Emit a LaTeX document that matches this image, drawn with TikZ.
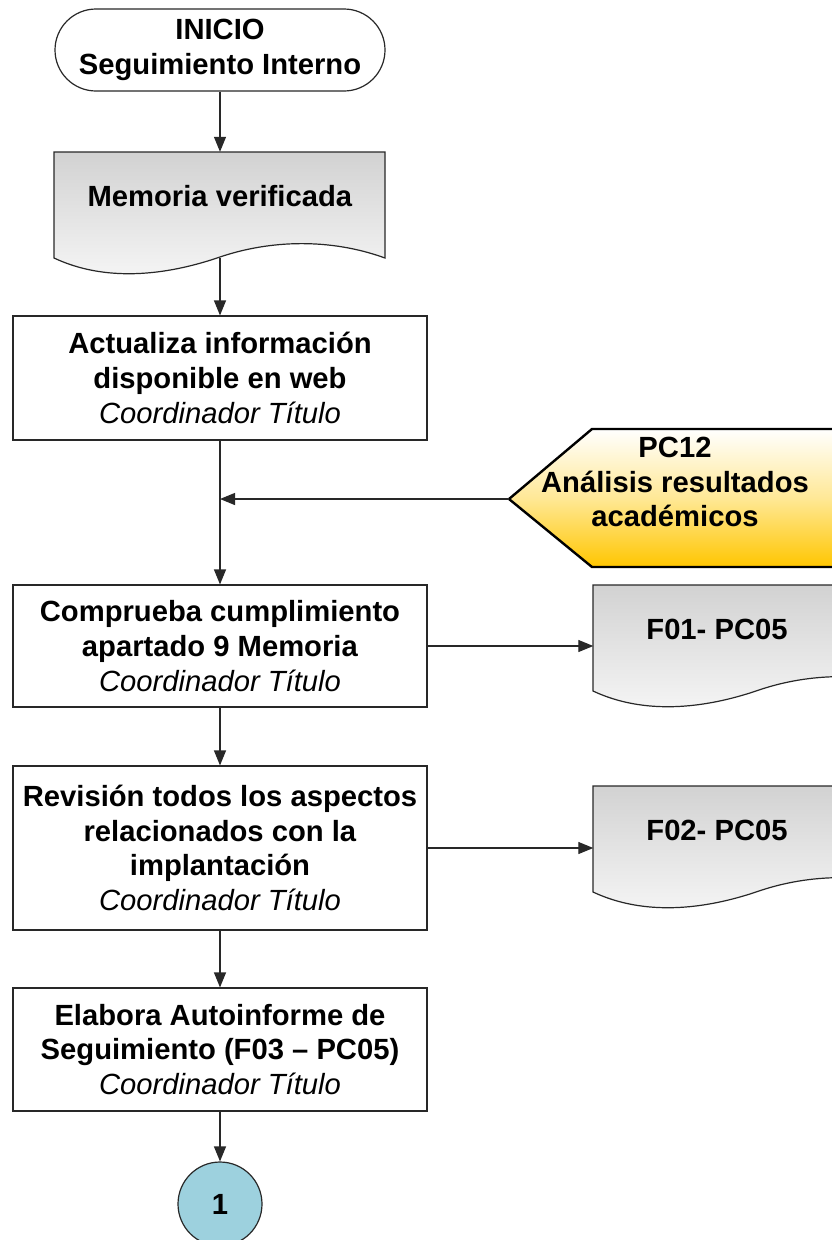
\documentclass[tikz,border=0pt]{standalone}
\usepackage{fontspec}
\setmainfont{Liberation Sans}
\usetikzlibrary{arrows.meta,calc}
\newcommand\fsz{\fontsize{29.2}{34.7}\selectfont}
\newcommand\docpath{(54,152) -- (385,152) -- (385,258) .. controls (330,238) and (270,240) .. (220,257) .. controls (165,276) and (105,282) .. (54,258) -- cycle}
\definecolor{docdark}{RGB}{210,210,210}
\definecolor{doclight}{RGB}{246,246,246}
\definecolor{goldbot}{RGB}{255,198,0}
\definecolor{goldmid}{RGB}{255,232,150}
\definecolor{circblue}{RGB}{157,209,222}
\definecolor{edge}{RGB}{40,40,40}
\tikzset{
  box/.style={draw=edge, line width=1.2pt, fill=white, minimum width=414pt, minimum height=124pt, align=center, font=\fsz, inner sep=0pt},
  txt/.style={align=center, font=\fsz, inner sep=0pt},
  ghost/.style={inner sep=0pt, minimum width=331pt, minimum height=106pt},
  arr/.style={-{Triangle[length=15pt,width=12pt]}, line width=1.2pt, draw=edge},
  docshape/.style={draw=edge, line width=1.2pt, top color=docdark, bottom color=doclight},
}
\begin{document}
\begin{tikzpicture}[x=1pt,y=-1pt]
\clip (0,0) rectangle (832,1240);
\fill[white] (0,0) rectangle (832,1240);

% start terminal
\node[draw=edge, line width=1.2pt, fill=white, rounded corners=41pt, minimum width=330pt, minimum height=82pt, txt] (start) at (220,50) {\textbf{INICIO}\\\textbf{Seguimiento Interno}};

% document: Memoria verificada
\path[docshape] \docpath;
\node[ghost] (mem) at (220,205) {};
\node[txt] (memt) at (220,196) {\textbf{Memoria verificada}};

% boxes
\node[box] (b1) at (220,378) {\textbf{Actualiza información}\\\textbf{disponible en web}\\\textit{Coordinador Título}};
\node[box, minimum height=122pt] (b2) at (220,646) {\textbf{Comprueba cumplimiento}\\\textbf{apartado 9 Memoria}\\\textit{Coordinador Título}};
\node[box, minimum height=164pt] (b3) at (220,848) {\textbf{Revisión todos los aspectos}\\\textbf{relacionados con la}\\\textbf{implantación}\\\textit{Coordinador Título}};
\node[box, minimum height=123pt] (b4) at (220,1049.5) {\textbf{Elabora Autoinforme de}\\\textbf{Seguimiento (F03 – PC05)}\\\textit{Coordinador Título}};

% PC12 off-page reference
\path[draw=black, line width=2.4pt, top color=white, bottom color=goldbot, middle color=goldmid]
  (509,499) -- (592,429) -- (860,429) -- (860,567) -- (592,567) -- cycle;
\coordinate (pctip) at (509,499);
\node[txt] (pc12) at (675,482) {\textbf{PC12}\\\textbf{Análisis resultados}\\\textbf{académicos}};

% F01 document
\begin{scope}[shift={(539,433)}]
\path[docshape] \docpath;
\node[ghost] (f01) at (220,205) {};
\node[txt] (f01t) at (178,196) {\textbf{F01- PC05}};
\end{scope}

% F02 document
\begin{scope}[shift={(539,634)}]
\path[docshape] \docpath;
\node[ghost] (f02) at (220,205) {};
\node[txt] (f02t) at (178,196) {\textbf{F02- PC05}};
\end{scope}

% connector circle
\node[draw=edge, line width=1.2pt, fill=circblue, circle, minimum size=84pt, inner sep=0pt, font=\fsz] (c1) at (220,1204) {\textbf{1}};

% connectors
\draw[arr] (start.south) -- (mem.north);
\draw[arr] (mem.south) -- (b1.north);
\draw[arr] (b1.south) -- (b2.north);
\draw[arr] (pctip) -- (pctip -| b1.south);
\draw[arr] (b2.east) -- (b2.east -| f01.west);
\draw[arr] (b2.south) -- (b3.north);
\draw[arr] (b3.east) -- (b3.east -| f02.west);
\draw[arr] (b3.south) -- (b4.north);
\draw[arr] (b4.south) -- (c1.north);
\end{tikzpicture}
\end{document}
